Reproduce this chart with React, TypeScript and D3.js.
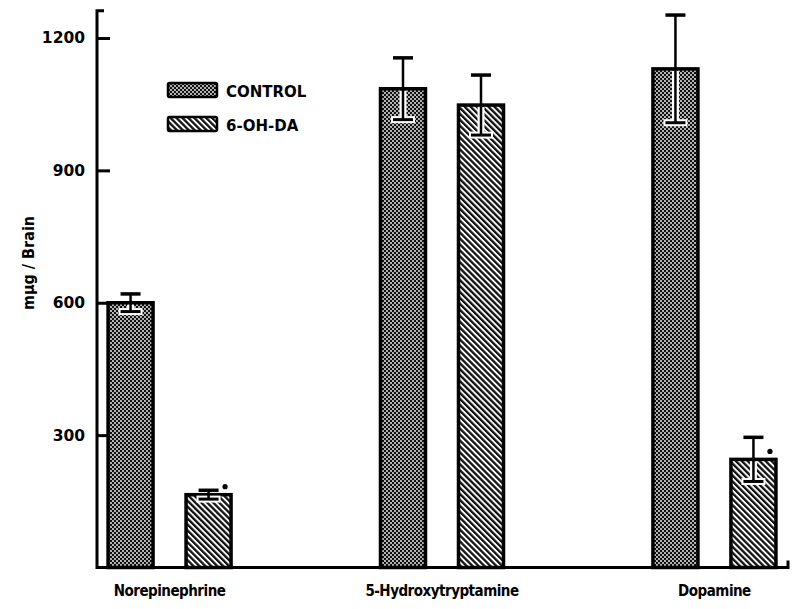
import React, { useEffect, useRef } from "react";
import * as d3 from "d3";

const categories = ["Norepinephrine", "5-Hydroxytryptamine", "Dopamine"];
const seriesNames = ["CONTROL", "6-OH-DA"];
const controlMeans = [600, 1085, 1130];
const controlErrors = [20, 70, 122];
const ohdaMeans = [165, 1048, 245];
const ohdaErrors = [10, 68, 50];
const ohdaSignificant = [true, false, true];
const yTicks = [300, 600, 900, 1200];
const yLabel = "mμg / Brain";
const axisTopValue = 1262;

const W = 798;
const H = 609;
const FONT = "'DejaVu Sans', sans-serif";
const FONT_COND = "'DejaVu Sans Condensed', 'DejaVu Sans', sans-serif";

const App = () => {
  const axisRef = useRef<SVGGElement>(null);

  const y = d3.scaleLinear().domain([0, 1200]).range([567.5, 38]);
  const xGroup = d3.scalePoint<string>().domain(categories).range([96, 788]).padding(0.27);
  const xInner = d3.scaleBand<string>().domain(seriesNames).range([-61.5, 61.5]).paddingInner(0.423);
  const axisX = 97;
  const axisRight = 788;

  const bars = categories.flatMap((c, i) => [
    { cat: c, series: seriesNames[0], mean: controlMeans[i], err: controlErrors[i], sig: false },
    { cat: c, series: seriesNames[1], mean: ohdaMeans[i], err: ohdaErrors[i], sig: ohdaSignificant[i] },
  ]);

  useEffect(() => {
    const g = d3.select(axisRef.current);
    g.selectAll("*").remove();
    const axis = d3
      .axisLeft(y)
      .tickValues(yTicks)
      .tickSizeInner(-13)
      .tickSizeOuter(0)
      .tickPadding(12)
      .tickFormat(d3.format("d"));
    g.call(axis);
    g.select(".domain").remove();
    g.selectAll(".tick line").attr("stroke", "#000").attr("stroke-width", 3);
    g.selectAll(".tick text")
      .attr("fill", "#000")
      .style("font-family", FONT)
      .style("font-weight", "bold")
      .style("font-size", "15.5px");
  }, []);

  return (
    <div style={{ position: "absolute", left: 0, top: 0 }}>
      <svg width={W} height={H} style={{ display: "block", background: "#fff" }}>
        <defs>
          <pattern id="stipple" width={4} height={4} patternUnits="userSpaceOnUse">
            <rect width={4} height={4} fill="#111" />
            <circle cx={1} cy={1} r={0.9} fill="#fff" />
            <circle cx={3} cy={3} r={0.9} fill="#fff" />
          </pattern>
          <pattern
            id="stripes"
            width={4.2}
            height={8}
            patternUnits="userSpaceOnUse"
            patternTransform="rotate(-45)"
          >
            <rect width={4.2} height={8} fill="#fff" />
            <rect width={2.3} height={8} fill="#111" />
          </pattern>
        </defs>

        {/* bars */}
        {bars.map((b, i) => {
          const x0 = (xGroup(b.cat) as number) + (xInner(b.series) as number);
          const bw = xInner.bandwidth();
          const cx = x0 + bw / 2;
          const top = y(b.mean);
          const hi = y(b.mean + b.err);
          const lo = y(b.mean - b.err);
          return (
            <g key={i}>
              <rect
                x={x0}
                y={top}
                width={bw}
                height={y(0) - top}
                fill={b.series === seriesNames[0] ? "url(#stipple)" : "url(#stripes)"}
                stroke="#000"
                strokeWidth={3.5}
              />
              {/* upper error */}
              <line x1={cx} x2={cx} y1={top} y2={hi} stroke="#000" strokeWidth={2.5} />
              <line x1={cx - 10} x2={cx + 10} y1={hi} y2={hi} stroke="#000" strokeWidth={3.5} />
              {/* lower error inside bar */}
              <line x1={cx} x2={cx} y1={top + 2} y2={lo} stroke="#fff" strokeWidth={7} />
              <line x1={cx - 12} x2={cx + 12} y1={lo} y2={lo} stroke="#fff" strokeWidth={7} />
              <line x1={cx} x2={cx} y1={top} y2={lo} stroke="#000" strokeWidth={2.5} />
              <line x1={cx - 10} x2={cx + 10} y1={lo} y2={lo} stroke="#000" strokeWidth={3} />
              {b.sig && <circle cx={x0 + bw - 6} cy={top - 8} r={2.6} fill="#000" />}
            </g>
          );
        })}

        {/* axes */}
        <g ref={axisRef} transform={`translate(${axisX},0)`} />
        <path
          d={`M${axisX + 7},${y(axisTopValue)}H${axisX}V${y(0)}H${axisRight}V${y(0) - 7}`}
          fill="none"
          stroke="#000"
          strokeWidth={3}
        />

        {/* category labels */}
        {categories.map((c) => (
          <text
            key={c}
            x={xGroup(c)}
            y={596}
            textAnchor="middle"
            fontFamily={FONT_COND}
            fontWeight="bold"
            fontSize={15}
            letterSpacing={-0.5}
            fill="#000"
          >
            {c}
          </text>
        ))}

        {/* y label */}
        <text
          transform={`translate(34,${263}) rotate(-90)`}
          textAnchor="middle"
          fontFamily={FONT_COND}
          fontWeight="bold"
          fontSize={16}
          fill="#000"
        >
          {yLabel}
        </text>

        {/* legend */}
        {seriesNames.map((s, i) => (
          <g key={s} transform={`translate(168,${83 + i * 34})`}>
            <rect
              width={49}
              height={14}
              fill={i === 0 ? "url(#stipple)" : "url(#stripes)"}
              stroke="#000"
              strokeWidth={2.5}
              rx={1.5}
            />
            <text x={58} y={13.5} fontFamily={FONT} fontWeight="bold" fontSize={15} fill="#000">
              {s}
            </text>
          </g>
        ))}
      </svg>
    </div>
  );
};

export default App;
